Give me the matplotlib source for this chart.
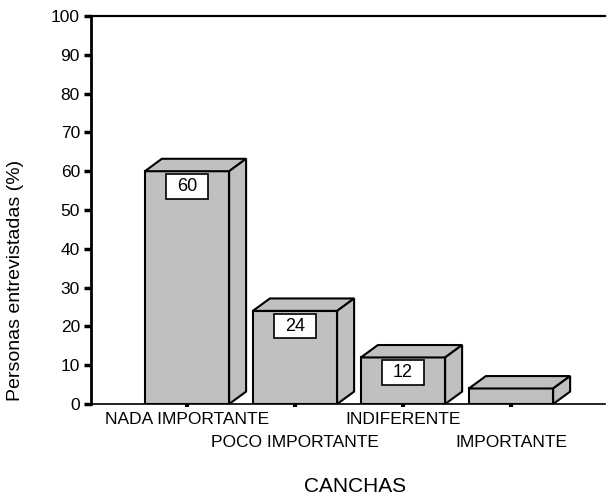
import matplotlib.pyplot as plt
from matplotlib.patches import Polygon, Rectangle

plt.rcParams['font.family'] = ['Liberation Sans', 'DejaVu Sans']

categorias = ["NADA IMPORTANTE", "POCO IMPORTANTE", "INDIFERENTE", "IMPORTANTE"]
porcentajes = [60, 24, 12, 4]
etiquetas = ["60", "24", "12", ""]
yticks = [0, 10, 20, 30, 40, 50, 60, 70, 80, 90, 100]

gris = "#c0c0c0"
ancho = 0.78
dx = 0.157   # profundidad 3D en x (datos)
dy = 3.2     # profundidad 3D en y (datos)

fig = plt.figure(figsize=(6.08, 4.97), dpi=100)
ax = fig.add_axes([91/608, 93/497, (605-91)/608, 388/497])

x = list(range(len(categorias)))
ax.bar(x, porcentajes, width=ancho, color=gris, edgecolor="black", linewidth=1.5, zorder=3)

for i, v in zip(x, porcentajes):
    x0 = i - ancho/2
    x1 = i + ancho/2
    techo = Polygon([(x0, v), (x0+dx, v+dy), (x1+dx, v+dy), (x1, v)],
                    closed=True, facecolor=gris, edgecolor="black", linewidth=1.5, zorder=3)
    lado = Polygon([(x1, 0), (x1, v), (x1+dx, v+dy), (x1+dx, dy)],
                   closed=True, facecolor=gris, edgecolor="black", linewidth=1.5, zorder=3)
    ax.add_patch(techo)
    ax.add_patch(lado)

for i, v, t in zip(x, porcentajes, etiquetas):
    if t == "":
        continue
    yc = v - 3.9
    ax.add_patch(Rectangle((i-0.195, yc-3.2), 0.39, 6.4, facecolor="white",
                           edgecolor="black", linewidth=1.2, zorder=4))
    ax.text(i, yc, t, ha="center", va="center", fontsize=13, zorder=5)

ax.set_xlim(-0.889, 3.87)
ax.set_ylim(0, 100)
ax.set_yticks(yticks)
ax.set_xticks(x)
ax.set_xticklabels([])
ax.tick_params(axis="y", direction="out", length=5, width=2.5, labelsize=12.5, pad=3)
ax.tick_params(axis="x", direction="out", length=2, width=3)

ax.spines["right"].set_visible(False)
ax.spines["left"].set_linewidth(2)
ax.spines["top"].set_linewidth(1.6)
ax.spines["bottom"].set_linewidth(1.2)

# etiquetas de categoria alternadas
for i, c in enumerate(categorias):
    yy = -0.0387 if i % 2 == 0 else -0.098
    ax.text(i, yy, c, transform=ax.get_xaxis_transform(), ha="center", va="center",
            fontsize=12.5)

fig.text(355/608, 1-492/497, "CANCHAS", ha="center", va="baseline", fontsize=15)
fig.text(16/608, 1-280/497, "Personas entrevistadas (%)", rotation=90,
         ha="center", va="center", fontsize=14)

plt.savefig("out.png", dpi=100)
